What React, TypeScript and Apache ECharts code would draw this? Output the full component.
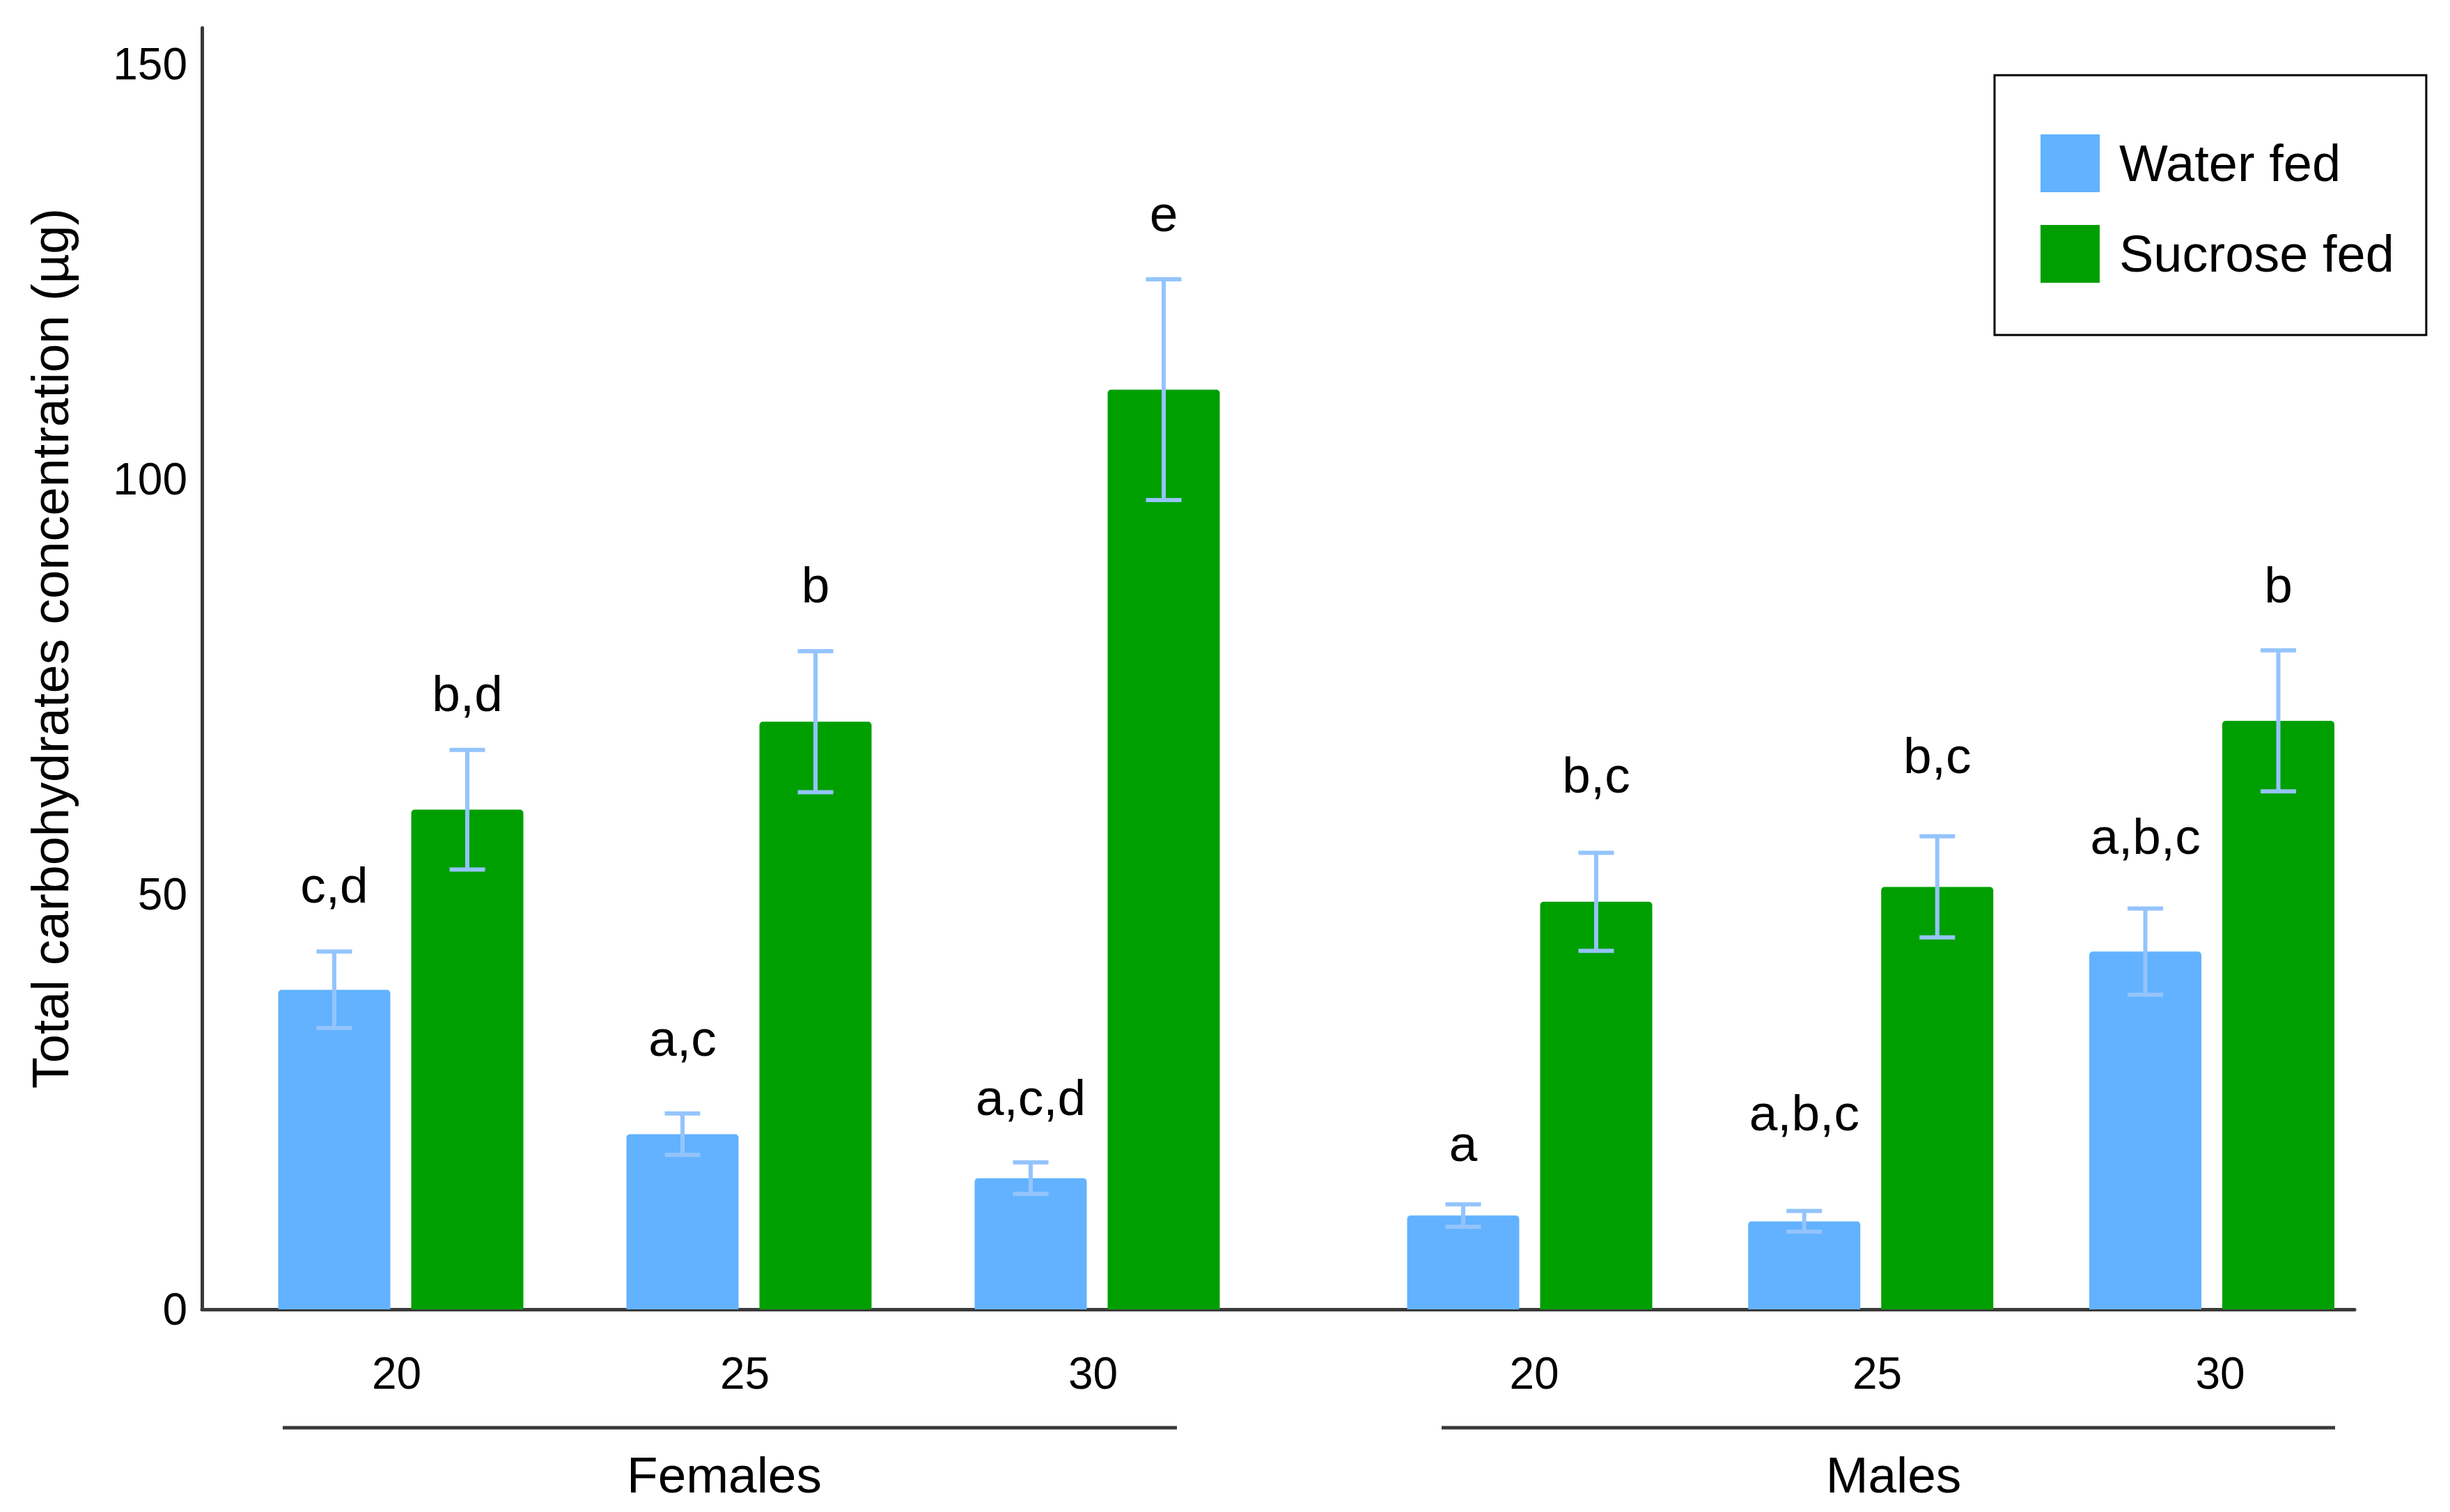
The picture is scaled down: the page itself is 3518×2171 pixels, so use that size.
import React, { useEffect, useRef } from "react";
import * as echarts from "echarts";

// ---------- data ----------
const groups = ["Females", "Males"];
const temperatures = ["20", "25", "30"];
const seriesNames = ["Water fed", "Sucrose fed"];
const waterMean = [38.5, 21.1, 15.8, 11.3, 10.6, 43.1];
const waterErr = [4.6, 2.5, 1.9, 1.35, 1.25, 5.2];
const sucroseMean = [60.2, 70.8, 110.8, 49.1, 50.9, 70.9];
const sucroseErr = [7.2, 8.5, 13.3, 5.9, 6.1, 8.5];
const waterLetters = ["c,d", "a,c", "a,c,d", "a", "a,b,c", "a,b,c"];
const sucroseLetters = ["b,d", "b", "e", "b,c", "b,c", "b"];
// value (on the y scale) of each letter's baseline
const waterLetterAt = [49.0, 30.6, 23.4, 17.9, 21.6, 54.9];
const sucroseLetterAt = [72.1, 85.2, 129.9, 62.3, 64.6, 85.2];
const yTicks = [0, 50, 100, 150];
const yTitle = "Total carbohydrates concentration (µg)";

// ---------- layout / style constants ----------
const W = 3518;
const H = 2171;
const GROUP_OFFSET = [0, 3.242];
const GROUP_STEP = [1, 0.9795];
const LABEL_OFFSET = [-0.012, 3.255];
const LABEL_STEP = [1, 0.985];
const X_MIN = -0.571;
const X_MAX = 5.611;
const Y_MAX = 154.4;
const BAR_W = 161;
const BAR_GAP = 30;
const HALF = (BAR_W + BAR_GAP) / 2;
const FONT = '"Liberation Sans", Arial, Helvetica, sans-serif';
const BLUE = "#62b2ff";
const GREEN = "#009f00";
const ERR = "#94c4fc";
const AXIS = "#3a3a3a";
const BIG = 73;
const TICK = 64;

const positions: number[] = [];
const labelPositions: number[] = [];
groups.forEach((_, gi) =>
  temperatures.forEach((__, ti) => {
    positions.push(GROUP_OFFSET[gi] + ti * GROUP_STEP[gi]);
    labelPositions.push(LABEL_OFFSET[gi] + ti * LABEL_STEP[gi]);
  })
);

function tempLabel(v: number): string {
  const i = labelPositions.findIndex((p) => Math.abs(p - v) < 1e-6);
  return i < 0 ? "" : temperatures[i % temperatures.length];
}

function errSeries(name: string, means: number[], errs: number[], letters: string[], letterAt: number[], side: number) {
  return {
    type: "custom",
    name,
    clip: false,
    z: 5,
    encode: { x: 0, y: 1 },
    data: positions.map((p, i) => [p, means[i], errs[i], letterAt[i]]),
    renderItem: (params: any, api: any) => {
      const x = api.value(0);
      const m = api.value(1);
      const e = api.value(2);
      const la = api.value(3);
      const top = api.coord([x, m + e]);
      const bot = api.coord([x, m - e]);
      const lp = api.coord([x, la]);
      const cx = top[0] + side * HALF;
      const cap = 25.5;
      const st = { stroke: ERR, lineWidth: 6, lineCap: "butt" };
      return {
        type: "group",
        children: [
          { type: "line", shape: { x1: cx, y1: top[1], x2: cx, y2: bot[1] }, style: st },
          { type: "line", shape: { x1: cx - cap, y1: top[1], x2: cx + cap, y2: top[1] }, style: st },
          { type: "line", shape: { x1: cx - cap, y1: bot[1], x2: cx + cap, y2: bot[1] }, style: st },
          {
            type: "text",
            x: cx,
            y: lp[1] - 0.3465 * BIG,
            style: {
              text: letters[params.dataIndex],
              fill: "#000",
              fontSize: BIG,
              fontFamily: FONT,
              align: "center",
              verticalAlign: "middle",
            },
          },
        ],
      };
    },
  };
}

export default function App() {
  const ref = useRef<HTMLDivElement>(null);
  useEffect(() => {
    if (!ref.current) return;
    const chart = echarts.init(ref.current, undefined, { renderer: "svg", width: W, height: H });
    const option: any = {
      animation: false,
      backgroundColor: "#fff",
      textStyle: { fontFamily: FONT },
      grid: { left: 290, right: W - 3381, top: 40, bottom: H - 1880, containLabel: false, outerBoundsMode: "none" },
      legend: {
        data: seriesNames,
        orient: "vertical",
        left: 2864,
        top: 108,
        padding: [85, 46, 75, 66],
        itemWidth: 85,
        itemHeight: 83,
        itemGap: 47,
        borderColor: "#000",
        borderWidth: 3,
        icon: "rect",
        itemStyle: { borderWidth: 0 },
        textStyle: {
          fontSize: 74,
          color: "#000",
          fontFamily: FONT,
          lineHeight: 64,
          padding: [0, 0, 11, 23],
        },
      },
      xAxis: {
        type: "value",
        min: X_MIN,
        max: X_MAX,
        splitLine: { show: false },
        axisTick: { show: false },
        axisLine: { show: true, onZero: false, lineStyle: { color: AXIS, width: 5 } },
        axisLabel: {
          customValues: labelPositions,
          formatter: (v: number) => tempLabel(v),
          fontSize: TICK,
          color: "#000",
          fontFamily: FONT,
          margin: 60,
        },
      },
      yAxis: {
        type: "value",
        min: 0,
        max: Y_MAX,
        interval: 50,
        splitLine: { show: false },
        axisTick: { show: false },
        axisLine: { show: true, onZero: false, lineStyle: { color: AXIS, width: 5 } },
        axisLabel: {
          formatter: (v: number) => (yTicks.indexOf(v) >= 0 ? String(v) : ""),
          fontSize: TICK,
          color: "#000",
          fontFamily: FONT,
          margin: 21,
        },
      },
      series: [
        {
          type: "bar",
          name: seriesNames[0],
          data: positions.map((p, i) => [p, waterMean[i]]),
          barWidth: BAR_W,
          barGap: ((BAR_GAP / BAR_W) * 100).toFixed(2) + "%",
          itemStyle: { color: BLUE, borderRadius: [5, 5, 0, 0] },
        },
        {
          type: "bar",
          name: seriesNames[1],
          data: positions.map((p, i) => [p, sucroseMean[i]]),
          barWidth: BAR_W,
          barGap: ((BAR_GAP / BAR_W) * 100).toFixed(2) + "%",
          itemStyle: { color: GREEN, borderRadius: [5, 5, 0, 0] },
        },
        errSeries("err-water", waterMean, waterErr, waterLetters, waterLetterAt, -1),
        errSeries("err-sucrose", sucroseMean, sucroseErr, sucroseLetters, sucroseLetterAt, 1),
      ],
      graphic: [
        {
          type: "text",
          x: 72,
          y: 931,
          rotation: Math.PI / 2,
          style: { text: yTitle, fontSize: 74, fontFamily: FONT, fill: "#000", align: "center", verticalAlign: "middle" },
        },
        { type: "line", shape: { x1: 406, y1: 2050, x2: 1690, y2: 2050 }, style: { stroke: AXIS, lineWidth: 5 } },
        { type: "line", shape: { x1: 2070, y1: 2050, x2: 3353, y2: 2050 }, style: { stroke: AXIS, lineWidth: 5 } },
        {
          type: "text",
          x: 1040,
          y: 2143 - 0.3465 * BIG,
          style: { text: groups[0], fontSize: BIG, fontFamily: FONT, fill: "#000", align: "center", verticalAlign: "middle" },
        },
        {
          type: "text",
          x: 2719,
          y: 2143 - 0.3465 * BIG,
          style: { text: groups[1], fontSize: BIG, fontFamily: FONT, fill: "#000", align: "center", verticalAlign: "middle" },
        },
      ],
    };
    chart.setOption(option);
    return () => chart.dispose();
  }, []);
  return (
    <div
      ref={ref}
      style={{ position: "absolute", left: 0, top: 0, width: W, height: H, background: "#fff" }}
    />
  );
}
